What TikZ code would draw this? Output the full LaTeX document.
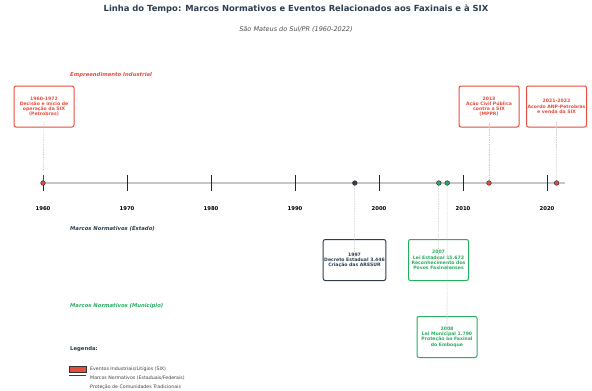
\documentclass[tikz,border=0pt]{standalone}
\usepackage{fontspec}
\setmainfont{DejaVu Sans}
\usetikzlibrary{positioning}
\definecolor{indcol}{HTML}{E74C3C}
\definecolor{estcol}{HTML}{2C3E50}
\definecolor{muncol}{HTML}{27AE60}

\begin{document}
\begin{tikzpicture}[x=1pt,y=-1pt,
  evbox/.style={draw=#1,text=#1,fill=white,line width=1pt,rounded corners=2pt,
    minimum width=60pt,minimum height=41pt,inner sep=1pt,align=center,
    font=\fontsize{4.6}{5.2}\selectfont\bfseries},
  evpt/.style={circle,fill=#1,draw=black!80,line width=0.5pt,inner sep=0pt,minimum size=4.6pt},
  guide/.style={gray!40,line width=0.6pt,dash pattern=on 1.5pt off 1pt},
  sect/.style={anchor=west,inner sep=0pt,font=\fontsize{5.3}{6}\selectfont\bfseries\itshape,text=#1},
  legtext/.style={anchor=west,inner sep=0pt,font=\fontsize{4.7}{5}\selectfont,text=black!75}]
  \useasboundingbox (0,0) rectangle (592,391);

  % titles
  \node[font=\fontsize{8.4}{9}\selectfont\bfseries,text=estcol] (title) at (296,9)
    {Linha do Tempo: Marcos Normativos e Eventos Relacionados aos Faxinais e à SIX};
  \node[font=\fontsize{6.5}{7}\selectfont\itshape,text=black!70] (subtitle) at (296,29)
    {São Mateus do Sul/PR (1960-2022)};

  % timeline
  \draw[gray!45,line width=2.4pt] (43,183) coordinate (t_start) -- (565,183) coordinate (t_end);
  \foreach \yr in {1960,1970,...,2020} {
    \draw[black!85,line width=0.8pt] ({43+(\yr-1960)*8.4},175) -- ({43+(\yr-1960)*8.4},191);
    \node[font=\fontsize{5.3}{6}\selectfont\bfseries] (yr_\yr) at ({43+(\yr-1960)*8.4},209) {\yr};
  }

  % section labels
  \node[sect=indcol] (s_ind) at (70,75) {Empreendimento Industrial};
  \node[sect=estcol] (s_est) at (70,229) {Marcos Normativos (Estado)};
  \node[sect=muncol] (s_mun) at (70,306) {Marcos Normativos (Município)};

  % events
  \path
  node[evbox=indcol] (b_1960) at (44,106.5) {1960-1972\\Decisão e início de\\operação da SIX\\(Petrobras)}
  node[evbox=indcol] (b_2013) at (489,106.5) {2013\\Ação Civil Pública\\contra a SIX\\(MPPR)}
  node[evbox=indcol] (b_2021) at (556.5,106.5) {2021-2022\\Acordo ANP-Petrobras\\e venda da SIX}
  node[evbox=estcol] (b_1997) at (354.5,260) {1997\\Decreto Estadual 3.446\\Criação das ARESUR}
  node[evbox=muncol] (b_2007) at (438.5,260) {2007\\Lei Estadual 15.673\\Reconhecimento dos\\Povos Faxinalenses}
  node[evbox=muncol] (b_2008) at (447,337) {2008\\Lei Municipal 1.790\\Proteção ao Faxinal\\do Emboque}
  ;
  \path[guide]
  (43,183) edge ([yshift=6pt]b_1960.south)
  (489,183) edge ([yshift=6pt]b_2013.south)
  (556.6,183) edge ([yshift=6pt]b_2021.south)
  (354.8,183) edge (b_1997.center)
  (438.8,183) edge (b_2007.center)
  (447.2,183) edge (b_2008.center)
  ;
  \path
  node[evpt=indcol] (p_1960) at (43,183) {}
  node[evpt=estcol] (p_1997) at (354.8,183) {}
  node[evpt=muncol] (p_2007) at (438.8,183) {}
  node[evpt=muncol] (p_2008) at (447.2,183) {}
  node[evpt=indcol] (p_2013) at (489,183) {}
  node[evpt=indcol] (p_2021) at (556.6,183) {}
  ;

  % legend
  \node[anchor=west,inner sep=0pt,font=\fontsize{5.3}{6}\selectfont\bfseries,text=estcol] (leg) at (70,349) {Legenda:};
  \draw[fill=indcol,draw=black!80,line width=0.5pt] (69,366) rectangle (86,372);
  \draw[estcol,line width=1pt] (69,375.5) -- (86,375.5);
  \node[legtext] (l_ind) at (90,369) {Eventos Industriais/Litígios (SIX)};
  \node[legtext] (l_est) at (90,378) {Marcos Normativos (Estaduais/Federais)};
  \node[legtext] (l_mun) at (90,387) {Proteção de Comunidades Tradicionais};
\end{tikzpicture}
\end{document}
